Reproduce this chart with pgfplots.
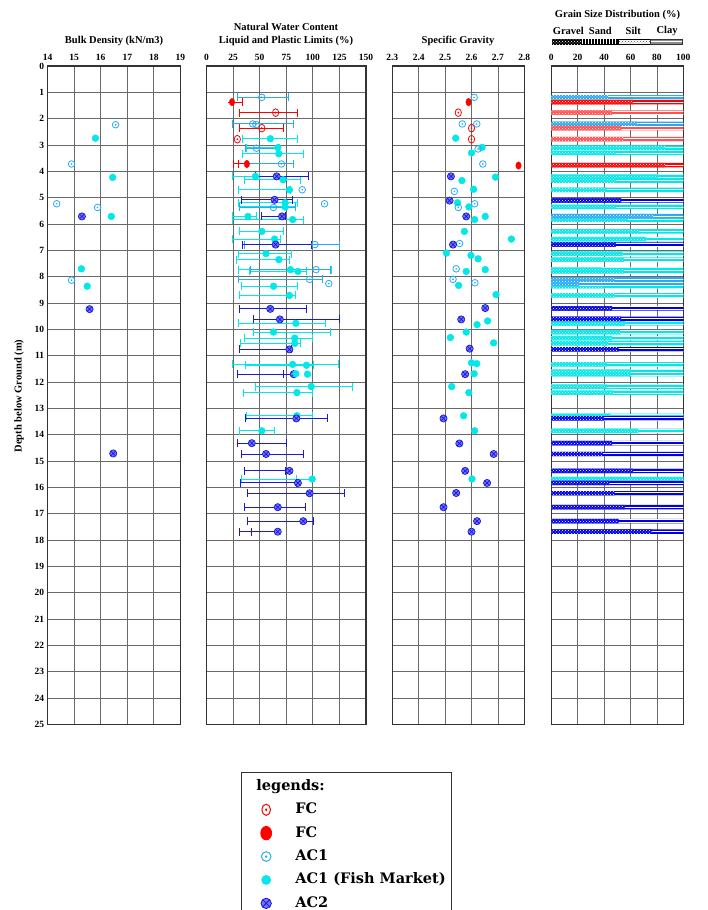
\documentclass[border=0pt]{standalone}
\usepackage{pgfplots}
\pgfplotsset{compat=1.18}
\usepackage{pgfplotstable}
\usepackage{fontspec}
\setmainfont{Liberation Serif}
\newfontfamily\legfont{DejaVu Serif}
\usetikzlibrary{patterns}
\definecolor{fcred}{RGB}{255,0,0}
\definecolor{fclight}{RGB}{255,80,80}
\definecolor{acone}{RGB}{40,170,245}
\definecolor{accyan}{RGB}{0,232,232}
\definecolor{actwo}{RGB}{25,25,215}
\definecolor{actwofill}{RGB}{115,115,255}
\definecolor{gridc}{RGB}{105,105,105}

\pgfdeclareplotmark{odot}{%
  \pgfpathcircle{\pgfpointorigin}{\pgfplotmarksize}\pgfusepathqstroke
  \pgfpathcircle{\pgfpointorigin}{0.28\pgfplotmarksize}\pgfusepathqfill}

\pgfplotsset{
 panel/.style={scale only axis, height=658.5pt, anchor=north west,
   ymin=0, ymax=25, y dir=reverse, ytick={0,1,...,25}, grid=major,
   major tick length=0pt, xticklabel pos=upper, xticklabel shift=1.5pt,
   axis line style={line width=1.2pt, black!80},
   grid style={line width=0.8pt, gridc},
   /pgf/number format/assume math mode=true,
   ticklabel style={font=\bfseries\fontsize{9.5}{10}\selectfont},
   yticklabels={}},
 fco/.style={only marks, mark=odot, mark size=3.1pt, mark options={draw=fcred, fill=fcred, line width=0.8pt, yscale=1.25}},
 fcf/.style={only marks, mark=*, mark size=3.4pt, mark options={draw=fcred, fill=fcred, xscale=0.8, yscale=1.1}},
 aco/.style={only marks, mark=odot, mark size=3.3pt, mark options={draw=acone, fill=acone, line width=0.8pt}},
 acc/.style={only marks, mark=*, mark size=3.4pt, mark options={draw=accyan, fill=accyan}},
 act/.style={only marks, mark=otimes*, mark size=3.6pt, mark options={draw=actwo, fill=actwofill, line width=0.7pt}},
 lims/.style={error bars/.cd, x dir=both, x explicit, error mark=|,
   error bar style={color=#1, line width=1pt},
   error mark options={color=#1, line width=1pt, mark size=4pt}},
 gsfull/.style={xbar, bar shift=0pt, bar width=0.17, draw=none, fill=#1,
   postaction={pattern=horizontal lines, pattern color=white}},
 gsleft/.style={xbar, bar shift=0pt, bar width=0.17, draw=none, fill=#1,
   postaction={pattern=crosshatch dots, pattern color=white}},
}

% ---------- Bulk density ----------
\pgfplotstableread{
d w
2.23 16.56
3.72 14.90
5.23 14.34
5.37 15.88
8.13 14.90
}\bdAco
\pgfplotstableread{
d w
2.74 15.80
4.23 16.45
5.71 16.40
7.70 15.27
8.36 15.49
}\bdAcc
\pgfplotstableread{
d w
5.71 15.29
9.23 15.58
14.71 16.47
}\bdAct

% ---------- Water content / limits ----------
\pgfplotstableread{
d w pl ll
1.77 65 31 86
2.36 52 31 72
}\wcFco
\pgfplotstableread{
d w
2.78 29
}\wcFcoM
\pgfplotstableread{
d w pl ll
1.37 24 24 34
3.72 38 25 30
}\wcFcf
\pgfplotstableread{
d w pl ll
1.19 52 29.5 77
2.20 43.5 24 82
3.12 47 37 68
3.72 70.5 38 82
5.37 63 31 84
6.78 102 36 125
7.73 103 41 117
8.10 97 30 109
}\wcAco
\pgfplotstableread{
d w
2.22 46.6
4.70 90
5.23 111
8.26 115
}\wcAcoM
\pgfplotstableread{
d w pl ll
2.76 60 34 86
3.10 67 38 69
3.33 68 34 91
4.19 46 24 50
4.32 72 36 88
4.70 78 30 79
5.19 74 30 86
5.35 74 31 84
5.71 39 24 47
5.83 81 24 91
6.28 52 31 72
6.57 64 24 70
7.12 56 30 80
7.35 68 28 78
7.73 79 30 118
7.80 86 40 94
8.36 63 33 86
8.71 78 31 84
9.77 84 30 112
10.10 63 44 117
10.33 83 36 100
10.53 83 32 88
11.33 81 24 124
11.36 94 37 101
12.17 98.5 46 137.5
12.40 85 35 100
13.28 85 38 100
13.85 52 31 64
15.68 99.4 33 84.5
}\wcAcc
\pgfplotstableread{
d w
11.70 95
11.68 84
}\wcAccM
\pgfplotstableread{
d w pl ll
4.19 66 46 96
5.08 64 33 81
5.71 71 52 74
6.78 65 34 98.5
9.22 60 31 94
9.62 69 44 125
10.76 78 31 80
11.70 82 29 72
13.38 84.5 37 114
14.32 42.6 29.5 75
14.73 56 33 91
15.37 78 36 74.5
15.83 86 32 85
16.22 97 39 129.5
16.75 67 36 93
17.28 91 39 101
17.68 67 31 42
}\wcAct

% ---------- Specific gravity ----------
\pgfplotstableread{
d w
1.77 2.550
2.36 2.600
2.78 2.600
}\sgFco
\pgfplotstableread{
d w
1.37 2.589
3.78 2.778
}\sgFcf
\pgfplotstableread{
d w
1.19 2.610
2.20 2.565
2.20 2.620
3.15 2.625
3.72 2.643
4.76 2.535
5.23 2.612
5.37 2.550
6.74 2.555
7.70 2.542
8.10 2.530
8.23 2.613
}\sgAco
\pgfplotstableread{
d w
2.74 2.540
3.09 2.640
3.30 2.600
4.22 2.691
4.35 2.564
4.68 2.608
5.19 2.547
5.35 2.590
5.71 2.652
5.83 2.612
6.28 2.573
6.57 2.751
7.10 2.505
7.19 2.598
7.32 2.625
7.73 2.652
7.80 2.580
8.33 2.551
8.68 2.693
9.68 2.661
9.82 2.621
10.10 2.580
10.31 2.520
10.51 2.684
11.27 2.600
11.30 2.620
11.68 2.610
12.17 2.525
12.40 2.590
13.28 2.570
13.85 2.612
15.68 2.602
}\sgAcc
\pgfplotstableread{
d w
4.19 2.522
5.11 2.517
5.71 2.580
6.78 2.530
9.19 2.652
9.62 2.561
10.73 2.593
11.70 2.576
13.38 2.494
14.33 2.554
14.73 2.684
15.37 2.576
15.83 2.659
16.21 2.542
16.75 2.494
17.28 2.621
17.68 2.600
}\sgAct

% ---------- Grain size (b = end of sand+silt, %) ----------
\pgfplotstableread{
d b
1.37 62
3.76 86
}\gsFcf
\pgfplotstableread{
d b
1.77 46
2.36 53
2.78 54.5
}\gsFco
\pgfplotstableread{
d b
1.19 43
2.20 65
5.70 77
8.10 48
8.26 21
}\gsAco
\pgfplotstableread{
d b
3.10 86
3.30 49
4.20 81
4.35 49
4.70 42
5.35 49
5.83 58
6.28 67
6.57 72
7.12 54
7.35 55
7.73 38
7.80 55
8.36 40
8.71 48
9.77 56
10.10 52
10.33 46
10.53 43
11.33 42
11.60 60
11.70 60
12.17 42
12.40 47
13.28 45
13.85 66
15.68 100
}\gsAcc
\pgfplotstableread{
d b
5.10 53
6.78 49
9.20 46
9.60 53
10.76 51
13.38 40
14.32 46
14.73 39
15.37 62
15.83 44
16.22 48
16.75 56
17.28 51
17.68 76
}\gsAct

\begin{document}
\begin{tikzpicture}
\useasboundingbox (0pt,0pt) rectangle (708pt,-910pt);
\clip (0pt,0pt) rectangle (708pt,-910pt);

% titles
\begin{scope}[every node/.style={font=\bfseries\fontsize{10.5}{12}\selectfont, inner sep=0pt}]
\node at (114pt,-41pt) {Bulk Density (kN/m3)};
\node at (286pt,-26.5pt) {Natural Water Content};
\node at (286pt,-41pt) {Liquid and Plastic Limits (\%)};
\node at (458pt,-41pt) {Specific Gravity};
\node at (617.5pt,-14.5pt) {Grain Size Distribution (\%)};
\node at (568.3pt,-31pt) {Gravel};
\node at (600.3pt,-31pt) {Sand};
\node at (633.3pt,-31pt) {Silt};
\node at (667pt,-31pt) {Clay};
\node[rotate=90] at (19pt,-396pt) {Depth below Ground (m)};
\end{scope}
% grain-size key bar
\fill[black] (551.7pt,-39pt) rectangle (618.3pt,-44.5pt);
\fill[pattern=crosshatch dots, pattern color=white] (551.7pt,-39pt) rectangle (581.7pt,-44.5pt);
\fill[pattern=vertical lines, pattern color=white] (581.7pt,-39.8pt) rectangle (618.3pt,-43.7pt);
\draw[black, line width=0.5pt, pattern=crosshatch dots, pattern color=black!70] (618.3pt,-39pt) rectangle (650pt,-44.5pt);
\draw[black!80, line width=0.5pt, fill=black!45] (650pt,-39pt) rectangle (682.7pt,-44.5pt);
\draw[white, line width=0.7pt] (650.5pt,-41.75pt) -- (682.2pt,-41.75pt);

% ---- Panel 1: bulk density ----
\begin{axis}[panel, at={(47.7pt,-66pt)}, width=132.6pt,
  xmin=14, xmax=19, xtick={14,15,...,19}, yticklabels={0,1,...,25}, yticklabel pos=left]
\addplot[aco] table[x=w,y=d] {\bdAco};
\addplot[acc] table[x=w,y=d] {\bdAcc};
\addplot[act] table[x=w,y=d] {\bdAct};
\end{axis}

% ---- Panel 2: water content ----
\begin{axis}[panel, at={(206.5pt,-66pt)}, width=159.5pt,
  xmin=0, xmax=150, xtick={0,25,...,150}]
\addplot[acc, lims=accyan] table[x=w,y=d, x error plus expr=\thisrow{ll}-\thisrow{w}, x error minus expr=\thisrow{w}-\thisrow{pl}] {\wcAcc};
\addplot[aco, lims=acone] table[x=w,y=d, x error plus expr=\thisrow{ll}-\thisrow{w}, x error minus expr=\thisrow{w}-\thisrow{pl}] {\wcAco};
\addplot[fco, lims=fcred] table[x=w,y=d, x error plus expr=\thisrow{ll}-\thisrow{w}, x error minus expr=\thisrow{w}-\thisrow{pl}] {\wcFco};
\addplot[fcf, lims=fcred] table[x=w,y=d, x error plus expr=\thisrow{ll}-\thisrow{w}, x error minus expr=\thisrow{w}-\thisrow{pl}] {\wcFcf};
\addplot[act, lims=actwo] table[x=w,y=d, x error plus expr=\thisrow{ll}-\thisrow{w}, x error minus expr=\thisrow{w}-\thisrow{pl}] {\wcAct};
\addplot[acc] table[x=w,y=d] {\wcAccM};
\addplot[aco] table[x=w,y=d] {\wcAcoM};
\addplot[fco] table[x=w,y=d] {\wcFcoM};
\end{axis}

% ---- Panel 3: specific gravity ----
\begin{axis}[panel, at={(392.3pt,-66pt)}, width=132pt,
  xmin=2.3, xmax=2.8, xtick={2.3,2.4,2.5,2.6,2.7,2.8},
  xticklabel style={/pgf/number format/.cd, fixed, fixed zerofill, precision=1}]
\addplot[acc] table[x=w,y=d] {\sgAcc};
\addplot[aco] table[x=w,y=d] {\sgAco};
\addplot[fco] table[x=w,y=d] {\sgFco};
\addplot[fcf] table[x=w,y=d] {\sgFcf};
\addplot[act] table[x=w,y=d] {\sgAct};
\end{axis}

% ---- Panel 4: grain size ----
\begin{axis}[panel, at={(551.3pt,-66pt)}, width=132pt,
  xmin=0, xmax=100, xtick={0,20,...,100}]
\addplot[gsfull=accyan] table[x expr=100, y=d] {\gsAcc};
\addplot[gsleft=accyan] table[x=b, y=d] {\gsAcc};
\addplot[gsfull=acone] table[x expr=100, y=d] {\gsAco};
\addplot[gsleft=acone] table[x=b, y=d] {\gsAco};
\addplot[gsfull=fclight] table[x expr=100, y=d] {\gsFco};
\addplot[gsleft=fclight] table[x=b, y=d] {\gsFco};
\addplot[gsfull=fcred] table[x expr=100, y=d] {\gsFcf};
\addplot[gsleft=fcred] table[x=b, y=d] {\gsFcf};
\addplot[gsfull=blue!90!black] table[x expr=100, y=d] {\gsAct};
\addplot[gsleft=blue!90!black] table[x=b, y=d] {\gsAct};
\end{axis}

% ---- Legend ----
\begin{axis}[at={(241pt,-772pt)}, anchor=north west, hide axis, scale only axis,
  width=5pt, height=5pt, xmin=0, xmax=1, ymin=0, ymax=1,
  legend style={at={(0,1)}, anchor=north west, draw=black!80, line width=1.3pt, fill=white,
    font=\legfont\bfseries\fontsize{14.5}{17}\selectfont, legend cell align=left,
    inner xsep=16pt, inner ysep=2pt, row sep=0pt,
    nodes={inner ysep=4.7pt, text height=11pt, text depth=3pt}}]
\addlegendimage{empty legend}
\addlegendentry{\hspace*{-17pt}legends:}
\addlegendimage{only marks, mark=odot, mark size=4.3pt, mark options={draw=fcred, fill=fcred, line width=1pt, yscale=1.3}}
\addlegendentry{\hspace*{22pt}FC}
\addlegendimage{only marks, mark=*, mark size=5.2pt, mark options={draw=fcred, fill=fcred, yscale=1.25}}
\addlegendentry{\hspace*{22pt}FC}
\addlegendimage{only marks, mark=odot, mark size=4.8pt, mark options={draw=acone, fill=acone, line width=1pt}}
\addlegendentry{\hspace*{22pt}AC1}
\addlegendimage{only marks, mark=*, mark size=4.2pt, mark options={draw=accyan, fill=accyan}}
\addlegendentry{\hspace*{22pt}AC1 (Fish Market)\hspace*{-12pt}}
\addlegendimage{only marks, mark=otimes*, mark size=5.2pt, mark options={draw=actwo, fill=actwofill, line width=0.8pt}}
\addlegendentry{\hspace*{22pt}AC2}
\end{axis}
\end{tikzpicture}
\end{document}
